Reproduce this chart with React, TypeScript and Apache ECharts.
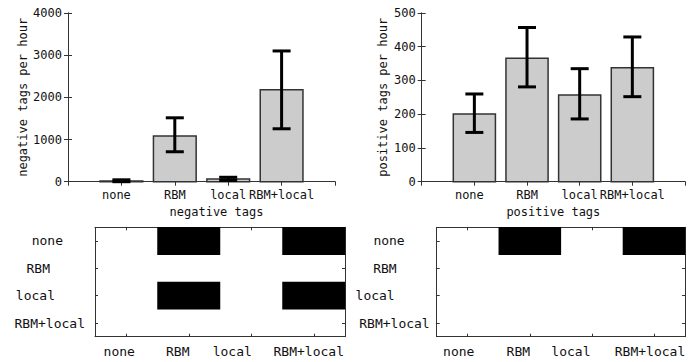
import React, { useEffect, useRef } from "react";
import * as echarts from "echarts";

const categories = ["none", "RBM", "local", "RBM+local"];
const negMean = [15, 1085, 65, 2180];
const negLow = [0, 710, 30, 1255];
const negHigh = [45, 1515, 105, 3100];
const posMean = [201, 366, 257, 338];
const posLow = [146, 281, 186, 252];
const posHigh = [260, 457, 335, 429];
// rows: none, RBM, local, RBM+local ; columns: none, RBM, local, RBM+local
const negMatrix = [
  [0, 1, 0, 1],
  [0, 0, 0, 0],
  [0, 1, 0, 1],
  [0, 0, 0, 0],
];
const posMatrix = [
  [0, 1, 0, 1],
  [0, 0, 0, 0],
  [0, 0, 0, 0],
  [0, 0, 0, 0],
];
const negAxis = { min: 0, max: 4000, interval: 1000, name: "negative tags per hour", xname: "negative tags" };
const posAxis = { min: 0, max: 500, interval: 100, name: "positive tags per hour", xname: "positive tags" };

const FONT = "DejaVu Sans Mono";
const TXT = "#111";
const LINE = "#333";

function barData(mean: number[], lo: number[], hi: number[]) {
  return mean.map((m, i) => [i + 1, m, lo[i], hi[i]]);
}
function matrixData(mat: number[][]) {
  const out: number[][] = [];
  mat.forEach((row, r) => row.forEach((v, c) => out.push([c, r, v])));
  return out;
}

const renderBar = (params: any, api: any) => {
  const x = api.value(0);
  const m = api.value(1);
  const lo = api.value(2);
  const hi = api.value(3);
  const base = api.coord([x, 0]);
  const top = api.coord([x, m]);
  const w = api.size([0.8, 0])[0];
  const pLo = api.coord([x, lo]);
  const pHi = api.coord([x, hi]);
  const cap = 9;
  const es = { stroke: "#000", lineWidth: 3 };
  return {
    type: "group",
    children: [
      {
        type: "rect",
        shape: { x: base[0] - w / 2, y: top[1], width: w, height: base[1] - top[1] },
        style: { fill: "#cccccc", stroke: LINE, lineWidth: 1.5 },
      },
      { type: "line", shape: { x1: pLo[0], y1: pLo[1], x2: pHi[0], y2: pHi[1] }, style: es },
      { type: "line", shape: { x1: pHi[0] - cap, y1: pHi[1], x2: pHi[0] + cap, y2: pHi[1] }, style: es },
      { type: "line", shape: { x1: pLo[0] - cap, y1: pLo[1], x2: pLo[0] + cap, y2: pLo[1] }, style: es },
    ],
  };
};

export default function App() {
  const ref = useRef<HTMLDivElement>(null);
  useEffect(() => {
    const chart = echarts.init(ref.current!, null, { renderer: "svg" });
    const lbl = { fontFamily: FONT, fontSize: 12, color: TXT };
    const hl = { fontFamily: FONT, fontSize: 13, color: TXT };
    const line = { show: true, lineStyle: { color: LINE, width: 1 } };
    const topX = (grid: number, a: any, nameShift: number) => [
      {
        type: "value",
        gridIndex: grid,
        min: 0,
        max: 5,
        interval: 1,
        position: "bottom",
        axisLine: line,
        axisTick: { show: false },
        splitLine: { show: false },
        name: a.xname,
        nameLocation: "middle",
        nameGap: 24,
        nameTextStyle: { ...lbl, padding: [0, 0, 0, nameShift] },
        axisLabel: {
          ...lbl,
          margin: 7,
          formatter: (v: number) => {
            const c = categories[v - 1];
            if (!c) return "";
            return `{c${v - 1}|${c}}`;
          },
          rich: {
            c0: { ...lbl, padding: [0, 10, 0, 0] },
            c1: { ...lbl },
            c2: { ...lbl },
            c3: { ...lbl },
          },
        },
      },
      {
        type: "value",
        gridIndex: grid,
        min: 0,
        max: 5,
        interval: 1,
        position: "top",
        axisLine: line,
        axisTick: { show: true, inside: true, length: 4, lineStyle: { color: LINE } },
        axisLabel: { show: false },
        splitLine: { show: false },
      },
    ];
    const topY = (grid: number, a: any, gap: number) => [
      {
        type: "value",
        gridIndex: grid,
        min: a.min,
        max: a.max,
        interval: a.interval,
        position: "left",
        axisLine: line,
        axisTick: { show: true, inside: true, length: 4, lineStyle: { color: LINE } },
        splitLine: { show: false },
        axisLabel: { ...lbl, margin: 6, formatter: (v: number) => String(v) },
        name: a.name,
        nameLocation: "middle",
        nameGap: gap,
        nameTextStyle: { ...lbl },
      },
      {
        type: "value",
        gridIndex: grid,
        min: a.min,
        max: a.max,
        interval: a.interval,
        position: "right",
        axisLine: line,
        axisTick: { show: true, inside: true, length: 4, lineStyle: { color: LINE } },
        splitLine: { show: false },
        axisLabel: { show: false },
      },
    ];
    const mkRich = (prefix: string, pads: number[]) => {
      const r: any = {};
      pads.forEach((p, i) => (r[prefix + i] = { ...hl, padding: [0, p, 0, 0] }));
      return r;
    };
    const hmX = (grid: number, pads: number[]) => [
      {
        type: "category",
        gridIndex: grid,
        data: categories,
        position: "bottom",
        axisLine: line,
        axisTick: { show: true, inside: true, alignWithLabel: true, length: 3, lineStyle: { color: LINE } },
        axisLabel: {
          ...hl,
          margin: 8,
          interval: 0,
          formatter: (v: string, i: number) => `{c${i}|${v}}`,
          rich: mkRich("c", pads),
        },
        splitLine: { show: false },
      },
      {
        type: "category",
        gridIndex: grid,
        data: categories,
        position: "top",
        axisLine: line,
        axisTick: { show: true, inside: true, alignWithLabel: true, length: 3, lineStyle: { color: LINE } },
        axisLabel: { show: false },
        splitLine: { show: false },
      },
    ];
    const hmY = (grid: number, pads: number[]) => [
      {
        type: "category",
        gridIndex: grid,
        data: categories,
        inverse: true,
        position: "left",
        axisLine: line,
        axisTick: { show: true, inside: true, alignWithLabel: true, length: 3, lineStyle: { color: LINE } },
        axisLabel: {
          ...hl,
          margin: 7,
          interval: 0,
          formatter: (v: string, i: number) => `{r${i}|${v}}`,
          rich: mkRich("r", pads),
        },
        splitLine: { show: false },
      },
      {
        type: "category",
        gridIndex: grid,
        data: categories,
        inverse: true,
        position: "right",
        axisLine: line,
        axisTick: { show: true, inside: true, alignWithLabel: true, length: 3, lineStyle: { color: LINE } },
        axisLabel: { show: false },
        splitLine: { show: false },
      },
    ];

    chart.setOption({
      animation: false,
      backgroundColor: "#ffffff",
      textStyle: { fontFamily: FONT },
      grid: [
        { left: 68, top: 13, width: 267, height: 168.7 },
        { left: 421.7, top: 13, width: 268.3, height: 168.7 },
        { left: 95, top: 227.3, width: 250, height: 109.4 },
        { left: 436.7, top: 227.3, width: 250, height: 109.4 },
      ],
      xAxis: [
        ...topX(0, negAxis, 30),
        ...topX(1, posAxis, 0),
        ...hmX(2, [14, 22, 38, 10]),
        ...hmX(3, [18, 23, 42, 8]),
      ],
      yAxis: [
        ...topY(0, negAxis, 35),
        ...topY(1, posAxis, 33),
        ...hmY(2, [25, 38, 33, 3]),
        ...hmY(3, [25, 33, 35, 0]),
      ],
      visualMap: {
        type: "piecewise",
        show: false,
        seriesIndex: [2, 3],
        dimension: 2,
        pieces: [
          { value: 0, color: "rgba(255,255,255,0)" },
          { value: 1, color: "#000000" },
        ],
      },
      series: [
        {
          type: "custom",
          xAxisIndex: 0,
          yAxisIndex: 0,
          renderItem: renderBar,
          data: barData(negMean, negLow, negHigh),
          clip: false,
        },
        {
          type: "custom",
          xAxisIndex: 2,
          yAxisIndex: 2,
          renderItem: renderBar,
          data: barData(posMean, posLow, posHigh),
          clip: false,
        },
        {
          type: "heatmap",
          xAxisIndex: 4,
          yAxisIndex: 4,
          data: matrixData(negMatrix),
          itemStyle: { borderWidth: 0 },
        },
        {
          type: "heatmap",
          xAxisIndex: 6,
          yAxisIndex: 6,
          data: matrixData(posMatrix),
          itemStyle: { borderWidth: 0 },
        },
      ],
    });
    return () => chart.dispose();
  }, []);
  return (
    <div
      ref={ref}
      style={{ position: "absolute", left: 0, top: 0, width: 688, height: 362 }}
    />
  );
}
